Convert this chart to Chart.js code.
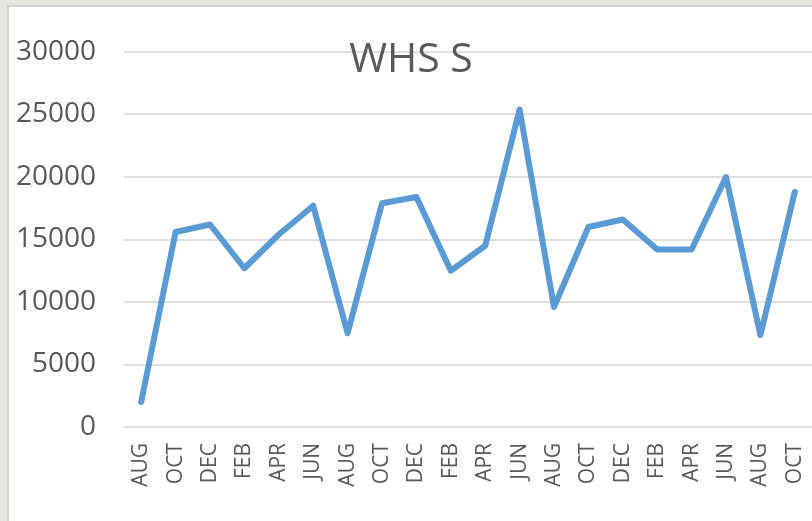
<!DOCTYPE html>
<html>
<head>
<meta charset="utf-8">
<script src="https://cdn.jsdelivr.net/npm/chart.js@4"></script>
<style>
  html, body { margin: 0; padding: 0; }
  body { width: 812px; height: 521px; overflow: hidden; background: #e3e7df; position: relative; }
  #panel { position: absolute; left: 7px; top: 5px; width: 830px; height: 540px; background: #fff; border: 2px solid #d3d3d3; }
  #wrap { position: absolute; left: 0; top: 0; width: 812px; height: 521px; }
</style>
</head>
<body>
<div id="panel"></div>
<div id="wrap"><canvas id="chart"></canvas></div>
<script>
// months along the bottom
const months = ["AUG", "OCT", "DEC", "FEB", "APR", "JUN", "AUG", "OCT", "DEC", "FEB",
                "APR", "JUN", "AUG", "OCT", "DEC", "FEB", "APR", "JUN", "AUG", "OCT"];

// values
const whsValues = [2000, 15600, 16200, 12700, 15400, 17700, 7500, 17900, 18400, 12500,
                   14500, 25400, 9600, 16000, 16600, 14200, 14200, 20000, 7350, 18800];

const chartTitle = "WHS S";
const yMax = 30000;
const yStep = 5000;

// title sits over the plot, like the excel one
const titlePlugin = {
  id: "overTitle",
  afterDraw(chart) {
    const ctx = chart.ctx;
    ctx.save();
    ctx.font = "41px 'Open Sans'";
    ctx.fillStyle = "#595959";
    ctx.textAlign = "center";
    ctx.textBaseline = "alphabetic";
    ctx.fillText(chartTitle, 411, 72);
    ctx.restore();
  }
};

const ctx = document.getElementById("chart").getContext("2d");

new Chart(ctx, {
  type: "line",
  data: {
    labels: months,
    datasets: [{
      label: chartTitle,
      data: whsValues,
      borderColor: "#5b9bd5",
      borderWidth: 6,
      borderCapStyle: "round",
      borderJoinStyle: "round",
      tension: 0,
      pointRadius: 0,
      fill: false
    }]
  },
  options: {
    responsive: true,
    maintainAspectRatio: false,
    animation: false,
    layout: { padding: { left: 0, top: 52, right: 0, bottom: 0 } },
    plugins: {
      legend: { display: false },
      tooltip: { enabled: false }
    },
    scales: {
      x: {
        offset: true,
        grid: { display: false, drawTicks: false },
        border: { display: false },
        ticks: {
          autoSkip: false,
          maxRotation: 90,
          minRotation: 90,
          padding: 16,
          color: "#595959",
          font: { family: "'Open Sans'", size: 21 }
        },
        afterFit(scale) {
          scale.height = 94;
          // plot runs right to the edge
          scale.paddingLeft = 0;
          scale.paddingRight = 0;
        }
      },
      y: {
        min: 0,
        max: yMax,
        grid: { color: "#e0e0e0", lineWidth: 2, drawTicks: false },
        border: { display: false },
        ticks: {
          stepSize: yStep,
          padding: 28,
          color: "#595959",
          font: { family: "'Open Sans'", size: 28 },
          callback: (v) => String(v)
        },
        afterFit(scale) { scale.width = 124; }
      }
    }
  },
  plugins: [titlePlugin]
});
</script>
</body>
</html>
